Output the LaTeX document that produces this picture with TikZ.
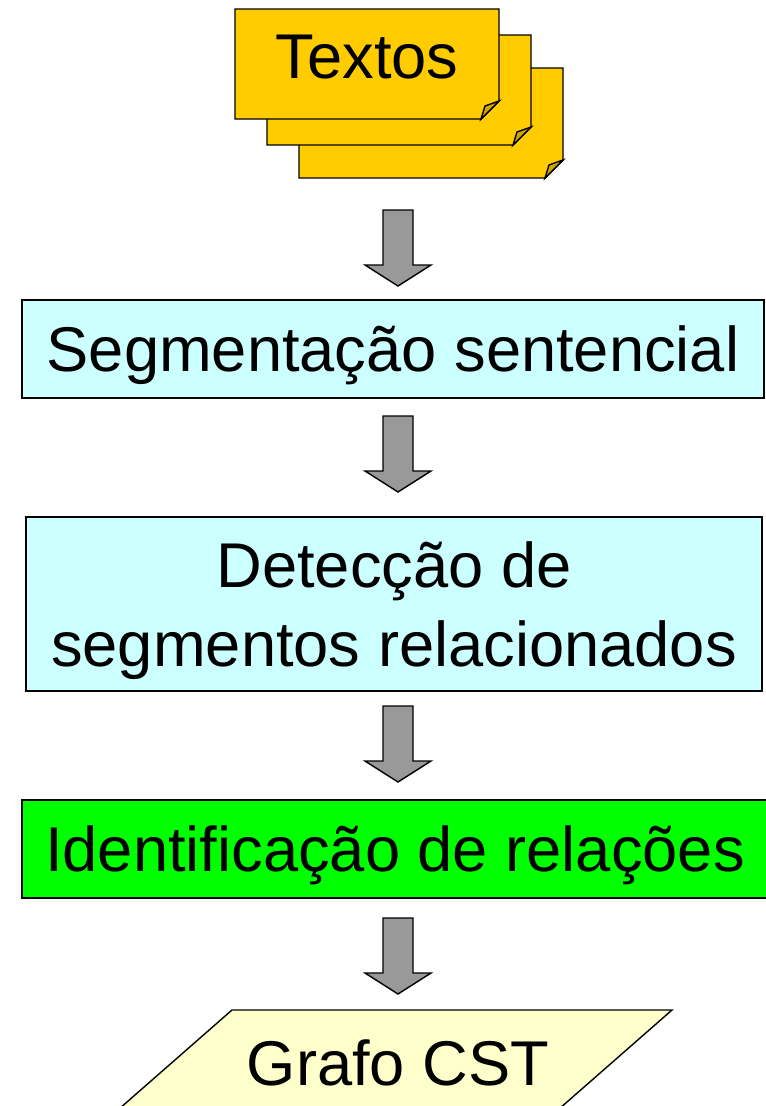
\documentclass[tikz,border=0pt]{standalone}
\usepackage{fontspec}
\setmainfont{Liberation Sans}
\definecolor{sheetyellow}{HTML}{FFCC00}
\definecolor{foldyellow}{HTML}{D4A500}
\definecolor{stepcyan}{HTML}{CCFFFF}
\definecolor{stepgreen}{HTML}{00FF00}
\definecolor{outyellow}{HTML}{FFFFCC}
\definecolor{arrowgray}{HTML}{999999}

\begin{document}
\begin{tikzpicture}[x=0.02cm,y=-0.02cm,
  label text/.style={inner sep=0pt,font=\fontsize{36}{45}\selectfont,text height=26pt,text depth=0pt},
  stepbox/.style={label text,draw,line width=0.8pt},
  paper/.style={draw,line width=0.8pt,fill=sheetyellow},
  blockarrow/.style={draw,line width=0.8pt,fill=arrowgray,line join=miter}]
\useasboundingbox (0,0) rectangle (766,1106);
% pile of texts
\foreach \l/\t in {299/68,267/35,235/9}{
  \draw[paper] (\l,\t) -- ++(264,0) -- ++(0,92) -- ++(-18,18) -- ++(-246,0) -- cycle;
  \draw[paper,fill=foldyellow] (\l+264,\t+92) -- (\l+246,\t+110) -- (\l+250,\t+97) -- cycle;
}
\node[label text] (txt) at (367,56) {Textos};
% steps
\node[stepbox,fill=stepcyan,minimum width=14.84cm,minimum height=1.96cm] (seg) at (393,349) {Segmentação sentencial};
\node[stepbox,fill=stepcyan,align=center,text height=71pt,minimum width=14.72cm,minimum height=3.48cm] (det) at (394,604) {Detecção de\\segmentos relacionados};
\node[stepbox,fill=stepgreen,minimum width=14.92cm,minimum height=1.96cm] (ide) at (395,849) {Identificação de relações};
% output
\begin{scope}
\clip (0,0) rectangle (766,1106);
\draw[line width=0.8pt,fill=outyellow] (232,1010) -- (672,1010) -- (551,1116) -- (111,1116) -- cycle;
\end{scope}
\node[label text] (cst) at (398,1063) {Grafo CST};
% arrows
\foreach \t in {210,416,706,918}
  \draw[blockarrow] (383,\t) -- (413,\t) -- (413,\t+55) -- (431,\t+55) -- (398,\t+76)
    -- (365,\t+55) -- (383,\t+55) -- cycle;
\end{tikzpicture}
\end{document}
